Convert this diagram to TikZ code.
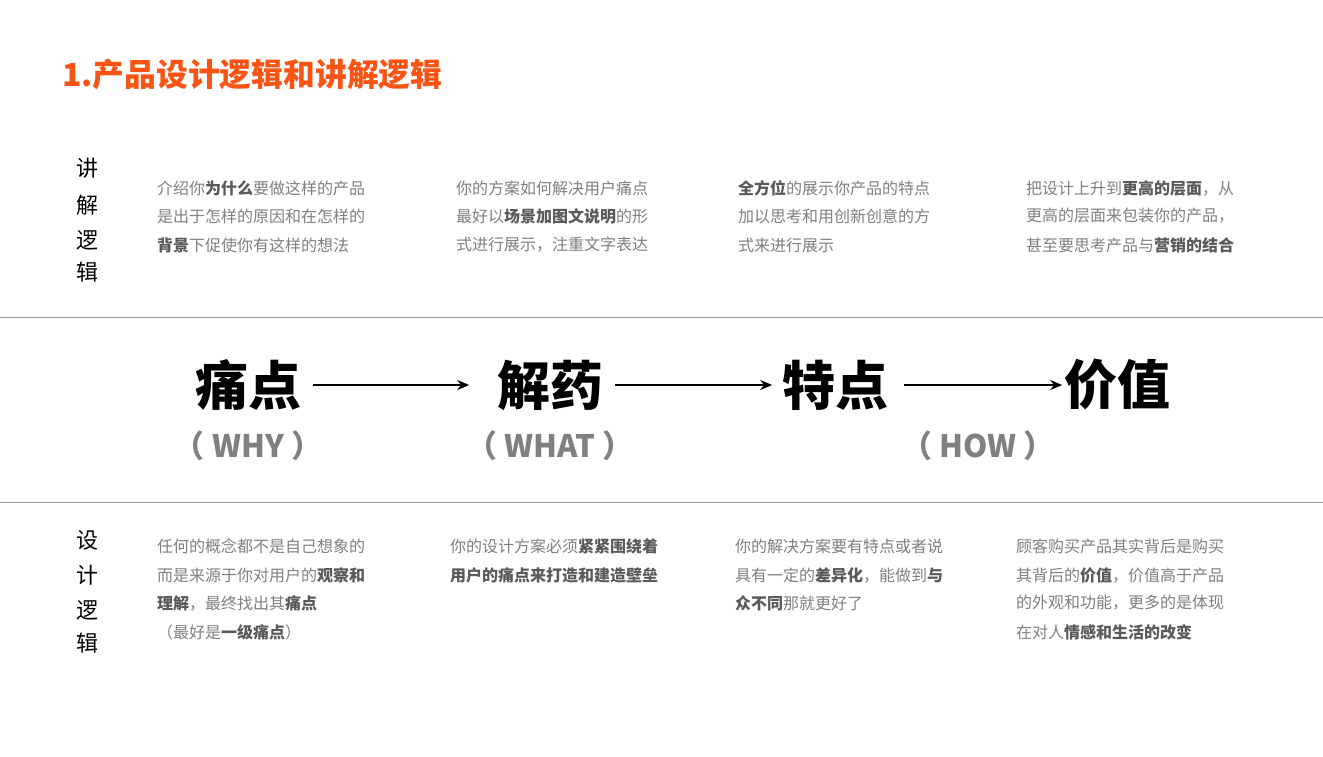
\documentclass[tikz,border=0pt]{standalone}
\usepackage{fontspec}
\setmainfont{Noto Sans CJK SC}
\usetikzlibrary{arrows.meta}
\definecolor{ttl}{HTML}{FA5414}
\definecolor{gtx}{HTML}{808080}
\definecolor{gbd}{HTML}{5A5A5A}
\newcommand{\bd}[1]{{\bfseries\color{gbd}#1}}
\tikzset{
 x=1pt,y=-1pt,
 vlab/.style={font=\fontsize{22}{22}\selectfont,text=black,inner sep=0},
 big/.style={font=\fontsize{53}{53}\selectfont\bfseries,text=black,inner sep=0},
 sub/.style={font=\fontsize{31}{31}\selectfont\bfseries,text=gtx,inner sep=0},
 ln/.style={font=\fontsize{16}{16}\selectfont,text=gtx,anchor=west,inner sep=0},
 arr/.style={-{Stealth[length=12pt,width=10pt]},line width=2pt},
 sep/.style={draw=gray!80,line width=0.8pt}
}
\begin{document}
\begin{tikzpicture}
\useasboundingbox (0,0) rectangle (1323,756);
\fill[white] (0,0) rectangle (1323,756);
\node[anchor=west,inner sep=0,text=ttl,font=\fontsize{31.8}{31.8}\selectfont\bfseries] (title) at (62,75) {1.产品设计逻辑和讲解逻辑};
% vertical labels
\foreach \c/\y [count=\i] in {讲/168,解/205,逻/240,辑/272}{\node[vlab] (ja\i) at (87,\y) {\c};}
\foreach \c/\y [count=\i] in {设/540,计/575,逻/610,辑/643}{\node[vlab] (sj\i) at (87,\y) {\c};}
% separators
\coordinate (l1a) at (0,317); \coordinate (l1b) at (1323,317);
\coordinate (l2a) at (0,502); \coordinate (l2b) at (1323,502);
\draw[sep] (l1a) -- (l1b); \draw[sep] (l2a) -- (l2b);
% big words
\node[big] (w1) at (248,385) {痛点};
\node[big] (w2) at (550,385) {解药};
\node[big] (w3) at (835,385) {特点};
\node[big] (w4) at (1117,385) {价值};
\draw[arr] (w1.east)++(12,0) coordinate (a1s) -- ++(156,0) coordinate (a1e);
\draw[arr] (w2.east)++(12,0) coordinate (a2s) -- ++(157,0) coordinate (a2e);
\draw[arr] (w3.east)++(16,0) coordinate (a3s) -- ++(158,0) coordinate (a3e);
\node[sub] (s1) at (248,446) {（ WHY ）};
\node[sub] (s2) at (550,446) {（ WHAT ）};
\node[sub] (s3) at (978,446) {（ HOW ）};
% top texts
\node[ln] (t11) at (157,188) {介绍你\bd{为什么}要做这样的产品};
\node[ln] (t12) at (157,216) {是出于怎样的原因和在怎样的};
\node[ln] (t13) at (157,245) {\bd{背景}下促使你有这样的想法};
\node[ln] (t21) at (456,188) {你的方案如何解决用户痛点};
\node[ln] (t22) at (456,216) {最好以\bd{场景加图文说明}的形};
\node[ln] (t23) at (456,245) {式进行展示，注重文字表达};
\node[ln] (t31) at (738,188) {\bd{全方位}的展示你产品的特点};
\node[ln] (t32) at (738,216) {加以思考和用创新创意的方};
\node[ln] (t33) at (738,245) {式来进行展示};
\node[ln] (t41) at (1026,188) {把设计上升到\bd{更高的层面}，从};
\node[ln] (t42) at (1026,216) {更高的层面来包装你的产品，};
\node[ln] (t43) at (1026,245) {甚至要思考产品与\bd{营销的结合}};
% bottom texts
\node[ln] (b11) at (157,546) {任何的概念都不是自己想象的};
\node[ln] (b12) at (157,575) {而是来源于你对用户的\bd{观察和}};
\node[ln] (b13) at (157,603) {\bd{理解}，最终找出其\bd{痛点}};
\node[ln] (b14) at (157,632) {（最好是\bd{一级痛点}）};
\node[ln] (b21) at (450,546) {你的设计方案必须\bd{紧紧围绕着}};
\node[ln] (b22) at (450,575) {\bd{用户的痛点来打造和建造壁垒}};
\node[ln] (b31) at (735,546) {你的解决方案要有特点或者说};
\node[ln] (b32) at (735,575) {具有一定的\bd{差异化}，能做到\bd{与}};
\node[ln] (b33) at (735,603) {\bd{众不同}那就更好了};
\node[ln] (b41) at (1016,546) {顾客购买产品其实背后是购买};
\node[ln] (b42) at (1016,575) {其背后的\bd{价值}，价值高于产品};
\node[ln] (b43) at (1016,603) {的外观和功能，更多的是体现};
\node[ln] (b44) at (1016,632) {在对人\bd{情感和生活的改变}};
\end{tikzpicture}
\end{document}
